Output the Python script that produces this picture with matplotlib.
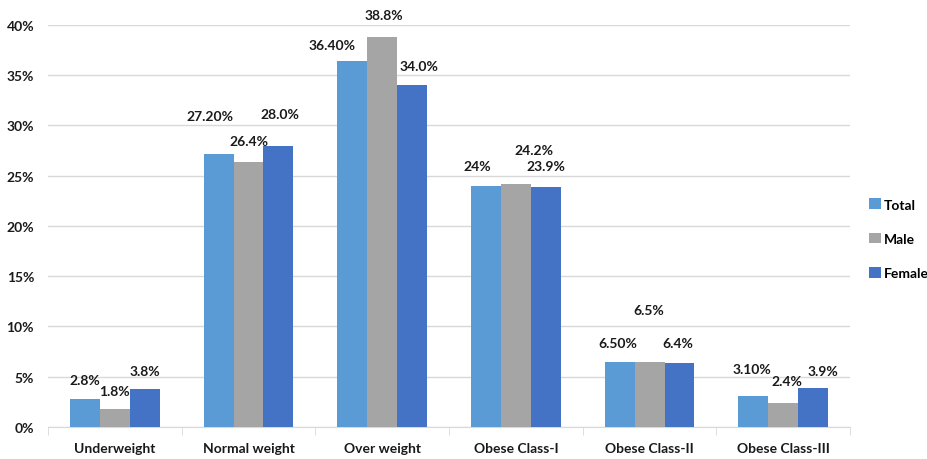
import numpy as np
import matplotlib.pyplot as plt
from matplotlib.ticker import FixedLocator, FuncFormatter

# data
categories = ["Underweight", "Normal weight", "Over weight",
              "Obese Class-I", "Obese Class-II", "Obese Class-III"]
series_names = ["Total", "Male", "Female"]
total = [2.8, 27.2, 36.4, 24.0, 6.5, 3.1]
male = [1.8, 26.4, 38.8, 24.2, 6.5, 2.4]
female = [3.8, 28.0, 34.0, 23.9, 6.4, 3.9]
total_labels = ["2.8%", "27.20%", "36.40%", "24%", "6.50%", "3.10%"]
male_labels = ["1.8%", "26.4%", "38.8%", "24.2%", "6.5%", "2.4%"]
female_labels = ["3.8%", "28.0%", "34.0%", "23.9%", "6.4%", "3.9%"]

# label nudges (pixels) -- the original labels were dragged around by hand
total_off = [(0, 19), (-9, 38), (-20, 16), (-9, 20), (-2, 19), (-1, 27)]
male_off = [(0, 18), (0, 21), (2, 22), (18, 34), (-1, 52), (4, 22)]
female_off = [(0, 18), (1, 32), (7, 19), (0, 21), (-2, 20), (10, 17)]

colors = ["#5B9BD5", "#A5A5A5", "#4472C4"]

plt.rcParams["font.family"] = ["Lato", "DejaVu Sans"]

fig = plt.figure(figsize=(9.28, 4.6), dpi=100)
ax = fig.add_axes([0.0517, 0.0696, 0.8643, 0.8739])

x = np.arange(len(categories))
w = 0.224
series = [total, male, female]
labels = [total_labels, male_labels, female_labels]
offsets = [total_off, male_off, female_off]

for i, (vals, name, col) in enumerate(zip(series, series_names, colors)):
    xs = x + (i - 1) * w
    ax.bar(xs, vals, w, color=col, label=name, zorder=3)
    for xi, v, lab, off in zip(xs, vals, labels[i], offsets[i]):
        ax.annotate(lab, (xi, v), xytext=off, textcoords="offset pixels",
                    ha="center", va="center", fontsize=10, fontweight="bold",
                    color="#1a1a1a", annotation_clip=False)

ax.set_xlim(-0.5, len(categories) - 0.5)
ax.set_ylim(0, 40)
ax.set_yticks(np.arange(0, 41, 5))
ax.yaxis.set_major_formatter(FuncFormatter(lambda v, p: "%d%%" % v))
ax.set_xticks(x)
ax.set_xticklabels(categories)
ax.xaxis.set_minor_locator(FixedLocator(np.arange(-0.5, len(categories), 1.0)))
ax.tick_params(axis="x", which="major", length=0, pad=11, labelsize=10)
ax.tick_params(axis="x", which="minor", length=6, color="#D9D9D9")
ax.tick_params(axis="y", length=0, pad=10, labelsize=10)
for t in ax.get_xticklabels() + ax.get_yticklabels():
    t.set_fontweight("bold")
    t.set_color("#1a1a1a")

ax.grid(axis="y", color="#D9D9D9", linewidth=1.0, zorder=0)
for s in ["top", "right", "left"]:
    ax.spines[s].set_visible(False)
ax.spines["bottom"].set_color("#D9D9D9")

leg = ax.legend(loc="center left", bbox_to_anchor=(1.0, 0.468), frameon=False,
                handlelength=0.8, handleheight=0.8, handletextpad=0.25,
                borderpad=0.0, borderaxespad=1.4,
                labelspacing=1.6, prop={"size": 10, "weight": "bold"})

fig.savefig("out.png", dpi=100)
